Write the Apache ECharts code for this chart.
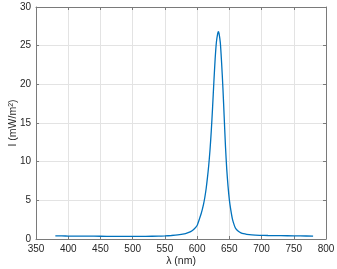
<!DOCTYPE html>
<html>
<head>
<meta charset="utf-8">
<script src="https://cdn.jsdelivr.net/npm/echarts@6/dist/echarts.min.js"></script>
<style>
  html, body { margin: 0; padding: 0; background: #fff; }
  #chart { width: 337px; height: 269px; }
</style>
</head>
<body>
<div id="chart"></div>
<script>
// spectrum
var wavelength = [380, 390, 400, 420, 440, 460, 480, 500, 520, 540, 550, 560, 570, 580, 585, 590, 595,
  600, 602, 604, 606, 608, 610, 612, 614, 616, 618, 620, 622, 624, 626, 628, 630, 632, 633, 634, 636, 638,
  640, 642, 644, 646, 648, 650, 652, 655, 658, 660, 664, 668, 672, 677, 685, 697, 710, 720, 740, 760, 780]
var intensity = [0.40, 0.40, 0.38, 0.37, 0.36, 0.35, 0.34, 0.34, 0.35, 0.37, 0.40, 0.45, 0.52, 0.65, 0.78, 0.95, 1.25,
  1.75, 2.2, 2.7, 3.2, 3.8, 4.5, 5.4, 6.5, 7.9, 9.5, 11.5, 14.0, 17.0, 20.3, 23.3, 25.5, 26.6, 26.8, 26.6, 25.4, 22.8,
  19.6, 15.8, 12.0, 9.0, 6.8, 5.1, 3.9, 2.5, 1.7, 1.35, 1.0, 0.8, 0.68, 0.6, 0.53, 0.48, 0.45, 0.44, 0.42, 0.40, 0.38]

var xTicks = [350, 400, 450, 500, 550, 600, 650, 700, 750, 800]
var yTicks = [0, 5, 10, 15, 20, 25, 30]

var axisColor = '#7a7a7a'
var textColor = '#262626'
var font = 'Liberation Sans, Arial, sans-serif'

var chart = echarts.init(document.getElementById('chart'), null, { renderer: 'canvas' })

var data = wavelength.map(function (w, i) { return [w, intensity[i]] })

function xAx(pos, showLabel) {
  return {
    type: 'value', position: pos,
    min: xTicks[0], max: xTicks[xTicks.length - 1], interval: 50,
    axisLine: { show: true, onZero: false, lineStyle: { color: axisColor, width: 1 } },
    axisTick: { show: true, inside: true, length: 3, lineStyle: { color: axisColor } },
    axisLabel: { show: showLabel, color: textColor, fontSize: 10, fontFamily: font, margin: 5 },
    splitLine: { show: showLabel, lineStyle: { color: '#e3e3e3', width: 1 } },
    name: showLabel ? 'λ (nm)' : '',
    nameLocation: 'middle', nameGap: 17, nameMoveOverlap: false,
    nameTextStyle: { color: textColor, fontSize: 10.5, fontFamily: font }
  }
}

function yAx(pos, showLabel) {
  return {
    type: 'value', position: pos,
    min: yTicks[0], max: yTicks[yTicks.length - 1], interval: 5,
    axisLine: { show: true, onZero: false, lineStyle: { color: axisColor, width: 1 } },
    axisTick: { show: true, inside: true, length: 3, lineStyle: { color: axisColor } },
    axisLabel: { show: showLabel, color: textColor, fontSize: 10, fontFamily: font, margin: 5 },
    splitLine: { show: showLabel, lineStyle: { color: '#e3e3e3', width: 1 } },
    name: showLabel ? 'I (mW/m{sup|2})' : '',
    nameLocation: 'middle', nameGap: 17, nameMoveOverlap: false,
    nameTextStyle: {
      color: textColor, fontSize: 10.5, fontFamily: font,
      rich: { sup: { fontSize: 7, verticalAlign: 'top', color: textColor, fontFamily: font } }
    }
  }
}

var option = {
  animation: false,
  backgroundColor: '#ffffff',
  grid: { left: 36, right: 11, top: 7, bottom: 30, outerBoundsMode: 'none' },
  xAxis: [xAx('bottom', true), xAx('top', false)],
  yAxis: [yAx('left', true), yAx('right', false)],
  series: [{
    type: 'line',
    xAxisIndex: 0, yAxisIndex: 0,
    data: data,
    smooth: 0.25,
    showSymbol: false,
    lineStyle: { color: '#0072BD', width: 1.3 }
  }]
}

chart.setOption(option)
</script>
</body>
</html>
